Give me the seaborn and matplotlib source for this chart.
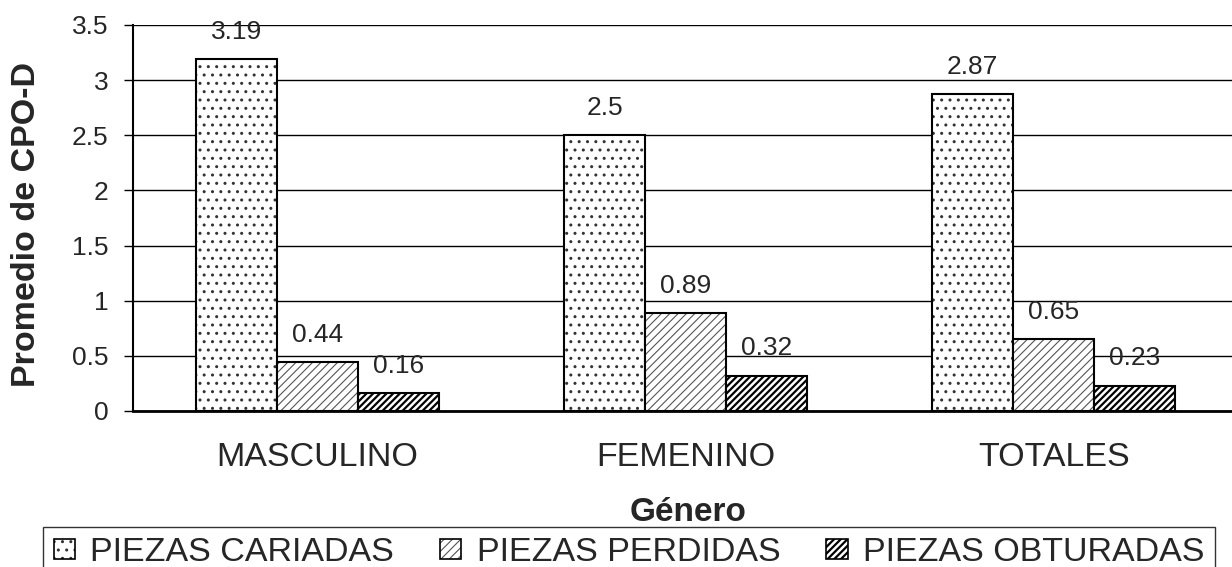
import matplotlib
matplotlib.use("Agg")
import matplotlib.pyplot as plt
from matplotlib.colors import to_rgba
from matplotlib.patches import Patch
from matplotlib.ticker import FormatStrFormatter, MultipleLocator
import numpy as np
import pandas as pd
import seaborn as sns

# data
generos = ["MASCULINO", "FEMENINO", "TOTALES"]
series = ["PIEZAS CARIADAS", "PIEZAS PERDIDAS", "PIEZAS OBTURADAS"]
cariadas = [3.19, 2.5, 2.87]
perdidas = [0.44, 0.89, 0.65]
obturadas = [0.16, 0.32, 0.23]

# hatch pattern, hatch colour, hatch line width per series
hatches = ["..", "////", "/////"]
hatch_colors = ["#333333", "#555555", "black"]
hatch_widths = [1.0, 0.8, 1.6]

df = pd.DataFrame({
    "genero": generos * 3,
    "serie": np.repeat(series, len(generos)),
    "valor": cariadas + perdidas + obturadas,
})

sns.set_style("white")
plt.rcParams["font.family"] = ["Liberation Sans", "DejaVu Sans"]
plt.rcParams["hatch.color"] = "black"


def style_hatch(p, h, c, lw):
    p.set_hatch(h)
    p._hatch_color = to_rgba(c)
    if hasattr(p, "set_hatch_linewidth"):
        p.set_hatch_linewidth(lw)
    else:
        p._hatch_linewidth = lw


W, H = 1232, 567
fig = plt.figure(figsize=(W / 100, H / 100), dpi=100)
ax = fig.add_axes([133 / W, 1 - 411 / H, (1238 - 133) / W, (411 - 25) / H])

sns.barplot(data=df, x="genero", y="valor", hue="serie", order=generos,
            hue_order=series, palette={s: "white" for s in series},
            saturation=1, width=0.66, edgecolor="black", linewidth=1.5,
            legend=False, ax=ax)

for cont, h, c, lw in zip(ax.containers, hatches, hatch_colors, hatch_widths):
    for bar in cont:
        style_hatch(bar, h, c, lw)
    ax.bar_label(cont, fmt="%g", padding=11, fontsize=19)

ax.set_xlim(-0.5, 2.5)
ax.set_ylim(0, 3.5)
ax.yaxis.set_major_locator(MultipleLocator(0.5))
ax.yaxis.set_major_formatter(FormatStrFormatter("%g"))
ax.grid(axis="y", color="black", linewidth=1)
ax.set_axisbelow(True)

ax.set_xticks(range(len(generos)))
ax.set_xticklabels(generos)
ax.set_xticks([-0.5, 0.5, 1.5, 2.5], minor=True)
ax.tick_params(axis="x", which="major", length=0, pad=22, labelsize=24.5)
ax.tick_params(axis="x", which="minor", length=6, width=1, color="black",
               direction="out")
ax.tick_params(axis="y", length=6.5, width=1, color="black", pad=11,
               labelsize=19, left=True)
ax.set_xlabel("")
ax.set_ylabel("")

for s in ["top", "right"]:
    ax.spines[s].set_visible(False)
ax.spines["left"].set_color("black")
ax.spines["left"].set_linewidth(1.5)
ax.spines["bottom"].set_color("black")
ax.spines["bottom"].set_linewidth(2)

fig.text(27 / W, 1 - 225 / H, "Promedio de CPO-D", rotation=90,
         ha="center", va="center", fontsize=24.5, fontweight="bold")
fig.text(688 / W, 1 - 521 / H, "Género", ha="center", va="baseline",
         fontsize=24, fontweight="bold")

handles = [Patch(facecolor="white", edgecolor="black", linewidth=1.2)
           for _ in series]
leg = fig.legend(handles, series, loc="upper center",
                 bbox_to_anchor=(629 / W, 1 - 527 / H), ncol=3, fontsize=24.5,
                 frameon=True, fancybox=False, edgecolor="black",
                 handlelength=0.63, handleheight=0.5, handletextpad=0.45,
                 columnspacing=1.35, borderpad=0.3, borderaxespad=0)
leg.get_frame().set_linewidth(1)
for p, h, c, lw in zip(leg.legend_handles, hatches, hatch_colors, hatch_widths):
    style_hatch(p, h, c, lw)

fig.savefig("out.png", dpi=100)
